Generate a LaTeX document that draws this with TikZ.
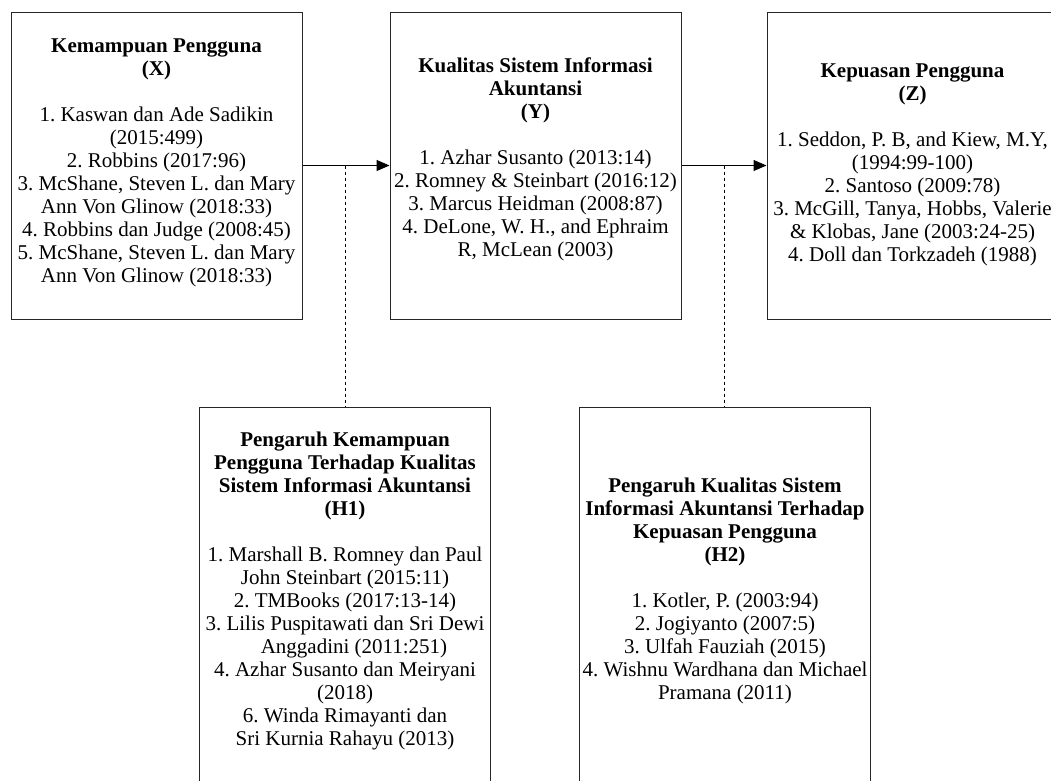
\documentclass[tikz,border=0pt]{standalone}
\usepackage{fontspec}
\setmainfont{Liberation Serif}
\usetikzlibrary{arrows.meta}
\frenchspacing
\begin{document}
\begin{tikzpicture}[x=1pt,y=-1pt,
  box/.style={draw=black!85, line width=1pt, inner sep=0pt, minimum width=291pt},
  txt/.style={align=center, inner sep=0pt, font=\fontsize{21}{23}\selectfont\frenchspacing},
  arr/.style={line width=1pt, -{Triangle[length=13pt,width=11pt]}},
  dsh/.style={line width=0.8pt, dash pattern=on 3.5pt off 2.5pt}]
\useasboundingbox (0,0) rectangle (1051,780);
\clip (0,0) rectangle (1051,780);
\fill[white] (0,0) rectangle (1051,780);

% top boxes
\node[box, minimum height=307pt] (bx) at (156.5,165.5) {};
\node[box, minimum height=307pt] (by) at (535.5,165.5) {};
\node[box, minimum height=307pt] (bz) at (912.5,165.5) {};
% bottom boxes
\node[box, minimum height=400pt] (bh1) at (345,607) {};
\node[box, minimum height=400pt] (bh2) at (725,607) {};

\node[txt] (tx) at (156.5,163) {\strut\textbf{Kemampuan Pengguna}\\ \strut\textbf{(X)}\\[23pt]
 \strut 1. Kaswan dan Ade Sadikin\\ \strut (2015:499)\\ \strut 2. Robbins (2017:96)\\
 \strut 3. McShane, Steven L. dan Mary\\ \strut Ann Von Glinow (2018:33)\\
 \strut 4. Robbins dan Judge (2008:45)\\ \strut 5. McShane, Steven L. dan Mary\\
 \strut Ann Von Glinow (2018:33)};

\node[txt] (ty) at (535.5,160) {\strut\textbf{Kualitas Sistem Informasi}\\ \strut\textbf{Akuntansi}\\ \strut\textbf{(Y)}\\[23pt]
 \strut 1. Azhar Susanto (2013:14)\\ \strut 2. Romney \& Steinbart (2016:12)\\
 \strut 3. Marcus Heidman (2008:87)\\ \strut 4. DeLone, W. H., and Ephraim\\
 \strut R, McLean (2003)};

\node[txt] (tz) at (912.5,165) {\strut\textbf{Kepuasan Pengguna}\\ \strut\textbf{(Z)}\\[23pt]
 \strut 1. Seddon, P. B, and Kiew, M.Y,\\ \strut (1994:99-100)\\ \strut 2. Santoso (2009:78)\\
 \strut 3. McGill, Tanya, Hobbs, Valerie\\ \strut \& Klobas, Jane (2003:24-25)\\
 \strut 4. Doll dan Torkzadeh (1988)};

\node[txt] (th1) at (345,591.5) {\strut\textbf{Pengaruh Kemampuan}\\ \strut\textbf{Pengguna Terhadap Kualitas}\\
 \strut\textbf{Sistem Informasi Akuntansi}\\ \strut\textbf{(H1)}\\[23pt]
 \strut 1. Marshall B. Romney dan Paul\\ \strut John Steinbart (2015:11)\\
 \strut 2. TMBooks (2017:13-14)\\ \strut 3. Lilis Puspitawati dan Sri Dewi\\
 \strut\hspace*{18pt}Anggadini (2011:251)\\ \strut 4. Azhar Susanto dan Meiryani\\
 \strut (2018)\\ \strut 6. Winda Rimayanti dan\\ \strut Sri Kurnia Rahayu (2013)};

\node[txt] (th2) at (725,591.5) {\strut\textbf{Pengaruh Kualitas Sistem}\\ \strut\textbf{Informasi Akuntansi Terhadap}\\
 \strut\textbf{Kepuasan Pengguna}\\ \strut\textbf{(H2)}\\[23pt]
 \strut 1. Kotler, P. (2003:94)\\ \strut 2. Jogiyanto (2007:5)\\
 \strut 3. Ulfah Fauziah (2015)\\ \strut 4. Wishnu Wardhana dan Michael\\
 \strut Pramana (2011)};

% connectors
\draw[arr] (bx.east) -- (by.west) coordinate[pos=0.49] (d1);
\draw[arr] (by.east) -- (bz.west) coordinate[pos=0.5] (d2);
\draw[dsh] (d1) -- (d1 |- bh1.north);
\draw[dsh] (d2) -- (d2 |- bh2.north);
\end{tikzpicture}
\end{document}
